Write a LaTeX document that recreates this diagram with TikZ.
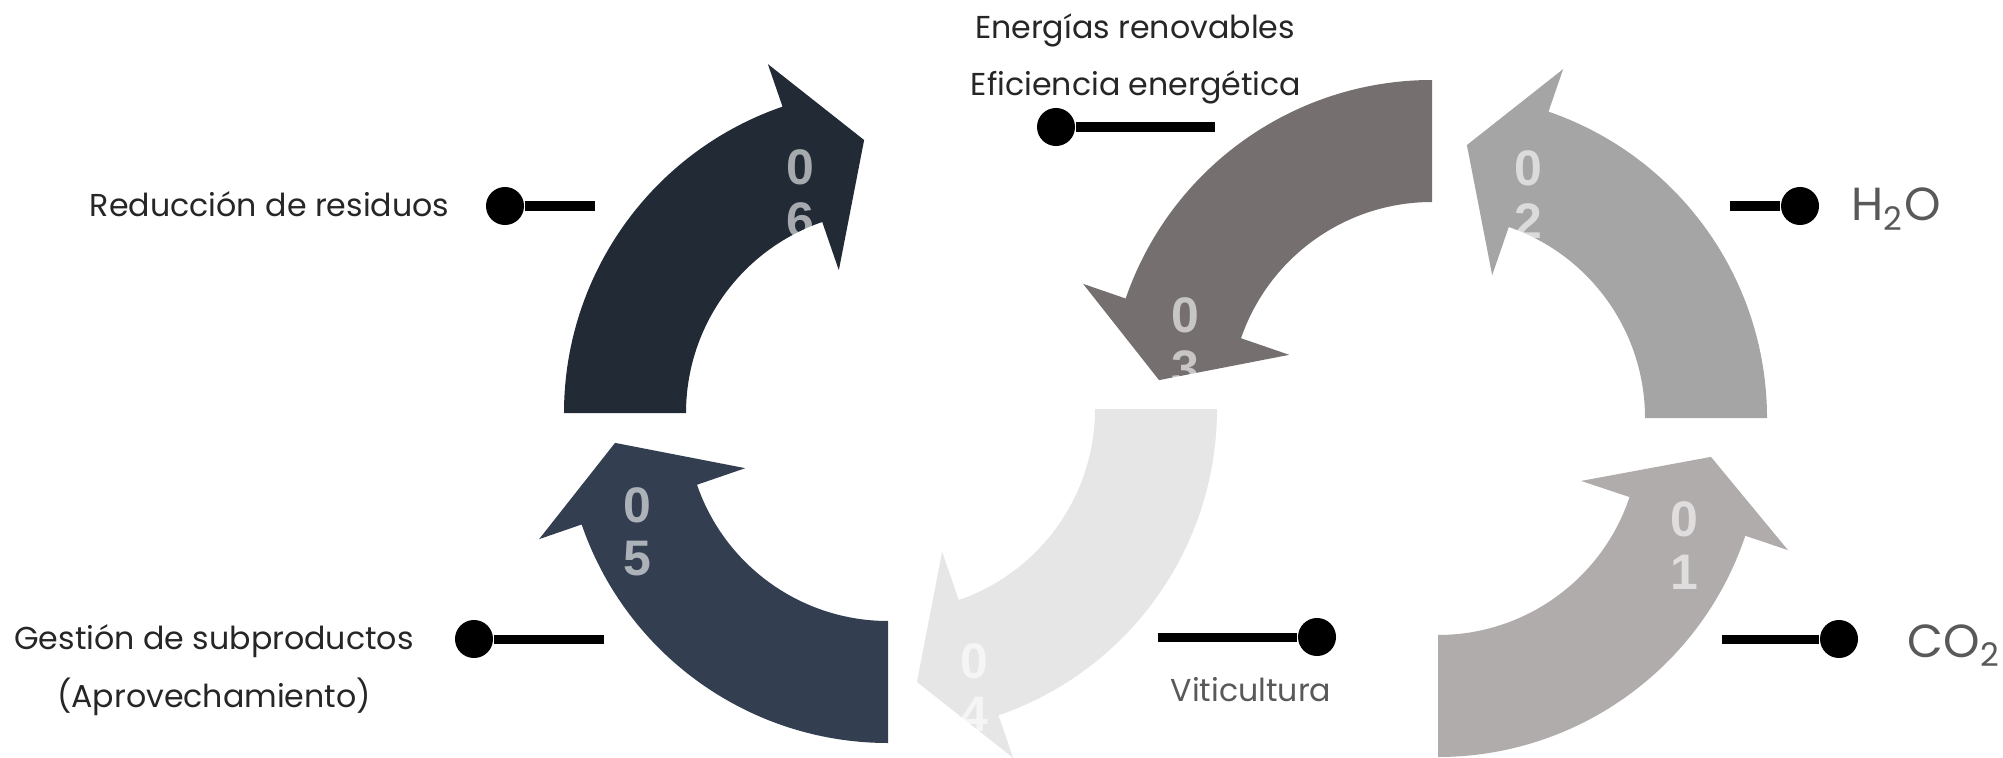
\documentclass[tikz,border=0pt]{standalone}
\usepackage{fontspec}
\setmainfont{Poppins}
\newfontfamily\numfont{Liberation Sans}
\definecolor{col01}{HTML}{AFACAB}
\definecolor{col02}{HTML}{A5A5A5}
\definecolor{col03}{HTML}{75706F}
\definecolor{col04}{HTML}{E6E6E6}
\definecolor{col05}{HTML}{333F50}
\definecolor{col06}{HTML}{222A35}
\definecolor{darktext}{HTML}{262626}
\definecolor{greytext}{HTML}{595959}
\newcommand{\ringpath}[4]{([shift={#1}]#2:202) arc[start angle=#2,end angle=#3,radius=202]
  -- ([shift={#1}]#3:151) -- ([shift={#1}]#4:274) -- ([shift={#1}]#3:369) -- ([shift={#1}]#3:324)
  arc[start angle=#3,end angle=#2,radius=324] -- cycle}
\newcommand{\ringarrow}[7]{%
\fill[#5] \ringpath{#1}{#2}{#3}{#4};
\begin{scope}
\clip \ringpath{#1}{#2}{#3}{#4};
\node[digit] (num#6) at #7 {0\\#6};
\end{scope}}
\begin{document}
\begin{tikzpicture}[x=0.01cm,y=0.01cm,
  digit/.style={text=white,text opacity=0.6,align=center,inner sep=0,
    font=\numfont\bfseries\fontsize{14.2}{15.1}\selectfont},
  label/.style={inner sep=0,text=darktext,font=\fontsize{9}{11}\selectfont},
  grey label/.style={label,text=greytext},
  big label/.style={grey label,font=\fontsize{13.2}{15}\selectfont},
  pin dot/.style={circle,fill=black,inner sep=0,minimum size=0.38cm},
  pin line/.style={line width=0.09cm}]
\useasboundingbox (0,0) rectangle (2003,757);
\ringarrow{(1438,324)}{-90}{-18.5}{-5}{col01}{1}{(1684,211)}
\ringarrow{(1443,339)}{0}{71}{85}{col02}{2}{(1528,562)}
\ringarrow{(1432,353)}{90}{161}{175}{col03}{3}{(1185,415)}
\ringarrow{(893,348)}{0}{-71}{-85}{col04}{4}{(974,69)}
\ringarrow{(888,338)}{270}{199}{185}{col05}{5}{(637,225)}
\ringarrow{(888,344)}{180}{109}{95}{col06}{6}{(800,563)}
\node[label,anchor=base] (renovables) at (1135,718) {Energías renovables};
\node[label,anchor=base] (eficiencia) at (1136,661) {Eficiencia energética};
\node[pin dot] (energia dot) at (1056,630) {};
\coordinate (energia end) at (1215,630);
\draw[pin line] (energia dot) -- (energia end);
\node[label,anchor=base east] (residuos) at (450,541) {Reducción de residuos};
\node[pin dot] (residuos dot) at (505,551) {};
\coordinate (residuos end) at (595,551);
\draw[pin line] (residuos dot) -- (residuos end);
\node[label,anchor=base] (gestion) at (214,108) {Gestión de subproductos};
\node[label,anchor=base] (aprovecha) at (214,50) {(Aprovechamiento)};
\node[pin dot] (gestion dot) at (474,118) {};
\coordinate (gestion end) at (604,118);
\draw[pin line] (gestion dot) -- (gestion end);
\node[grey label,anchor=base] (viti) at (1251,56) {Viticultura};
\node[pin dot] (viti dot) at (1317,120) {};
\coordinate (viti end) at (1158,120);
\draw[pin line] (viti end) -- (viti dot);
\node[big label,anchor=base west] (agua) at (1851,536) {H\textsubscript{2}O};
\node[pin dot] (agua dot) at (1800,551) {};
\coordinate (agua end) at (1730,551);
\draw[pin line] (agua end) -- (agua dot);
\node[big label,anchor=base west] (carbono) at (1907,100) {CO\textsubscript{2}};
\node[pin dot] (carbono dot) at (1839,118) {};
\coordinate (carbono end) at (1722,118);
\draw[pin line] (carbono end) -- (carbono dot);
\end{tikzpicture}
\end{document}
